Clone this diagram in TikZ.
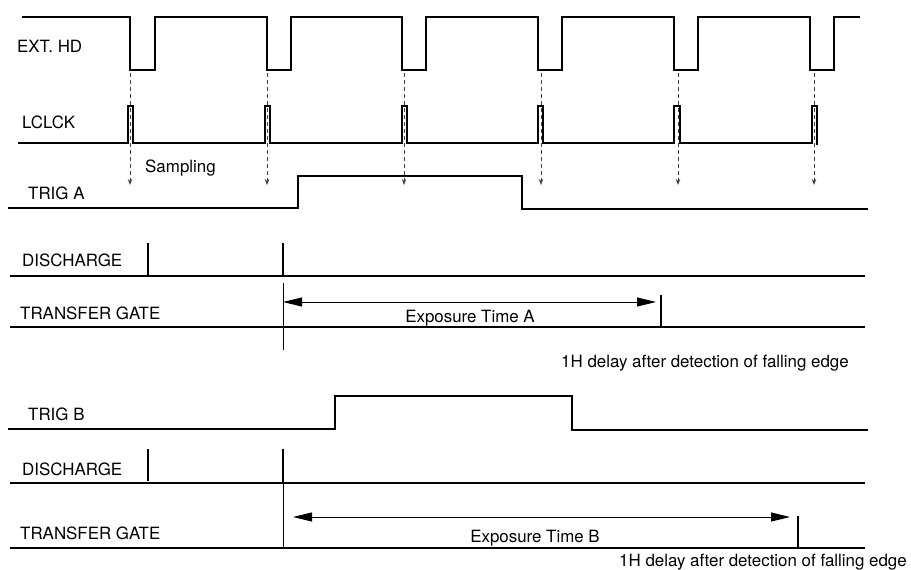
\documentclass[tikz,border=0pt]{standalone}
\usepackage{fontspec}
\setmainfont{TeX Gyre Heros}
\usetikzlibrary{arrows.meta}

\tikzset{
  signal/.style={line width=1.8pt},
  thinline/.style={line width=0.9pt},
  barline/.style={line width=1.4pt},
  samplearrow/.style={dash pattern=on 4pt off 3pt, line width=1pt, black!75, -{Stealth[length=6pt,width=4.5pt]}},
  exparrow/.style={thinline, {Triangle[length=19pt,width=9pt]}-{Triangle[length=19pt,width=9pt]}},
  lbl/.style={anchor=base west, inner sep=0pt, font=\fontsize{16.9}{18}\selectfont},
  midlbl/.style={lbl, anchor=base},
}

\begin{document}
\begin{tikzpicture}[x=1pt,y=-1pt]
\useasboundingbox (0,0) rectangle (911,570);

            % EXT. HD
            \node[lbl] (exthd) at (17,52) {EXT. HD};
            \draw[signal] (22,17) -- (130,17) -- (130,70) -- (155,70) -- (155,17)
                -- (267,17) -- (267,70) -- (291,70) -- (291,17)
                -- (402,17) -- (402,70) -- (426,70) -- (426,17)
                -- (538,17) -- (538,70) -- (562,70) -- (562,17)
                -- (674,17) -- (674,70) -- (698,70) -- (698,17)
                -- (810,17) -- (810,70) -- (834,70) -- (834,17) -- (860,17);

            % LCLCK
            \node[lbl] (lclck) at (22,128) {LCLCK};
            \draw[signal] (18,143) -- (128,143) -- (128,106) -- (133,106) -- (133,143)
                -- (265,143) -- (265,106) -- (270,106) -- (270,143)
                -- (402,143) -- (402,106) -- (407,106) -- (407,143)
                -- (538,143) -- (538,106) -- (543,106) -- (543,143)
                -- (674,143) -- (674,106) -- (680,106) -- (680,143)
                -- (812,143) -- (812,106) -- (817,106) -- (817,145);

            % sampling arrows
            \draw[samplearrow] (130,73) -- (130,185);
            \draw[samplearrow] (267,73) -- (267,185);
            \draw[samplearrow] (404,73) -- (404,185);
            \draw[samplearrow] (541,73) -- (541,185);
            \draw[samplearrow] (678,73) -- (678,185);
            \draw[samplearrow] (814,73) -- (814,185);
            \node[lbl] (sampling) at (145,172) {Sampling};

            % TRIG A
            \node[lbl] (triga) at (28,199) {TRIG A};
            \draw[signal] (8,208) -- (298,208) -- (298,176) -- (522,176) -- (522,209) -- (868,209);

            \node[lbl] (dischA) at (22,266) {DISCHARGE};
            \draw[signal] (10,276) -- (865,276);
            \draw[signal] (148,243) -- (148,275);
            \draw[barline] (283,243) -- (283,276);

            \node[lbl] (tgA) at (20,319) {TRANSFER GATE};
            \draw[signal] (10,327) -- (865,327);
            \draw[thinline] (283,283) -- (283,350);
            \draw[exparrow] (283,302) -- (656,302);
            \draw[barline] (661,295) -- (661,327);
            \node[midlbl] (expA) at (470,322) {Exposure Time A};
            \node[lbl] (delayA) at (561,367) {1H delay after detection of falling edge};

            % TRIG B
            \node[lbl] (trigb) at (28,420) {TRIG B};
            \draw[signal] (8,429) -- (335,429) -- (335,396) -- (572,396) -- (572,430) -- (868,430);

            \node[lbl] (dischB) at (22,475) {DISCHARGE};
            \draw[signal] (10,483) -- (865,483);
            \draw[signal] (148,449) -- (148,481);
            \draw[barline] (283,449) -- (283,483);

            \node[lbl] (tgB) at (20,539) {TRANSFER GATE};
            \draw[signal] (10,548) -- (865,548);
            \draw[thinline] (283,483) -- (283,548);
            \draw[exparrow] (293,517) -- (790,517);
            \draw[barline] (798,516) -- (798,548);
            \node[midlbl] (expB) at (535,542) {Exposure Time B};
            \node[lbl] (delayB) at (619,566) {1H delay after detection of falling edge};

\end{tikzpicture}
\end{document}
